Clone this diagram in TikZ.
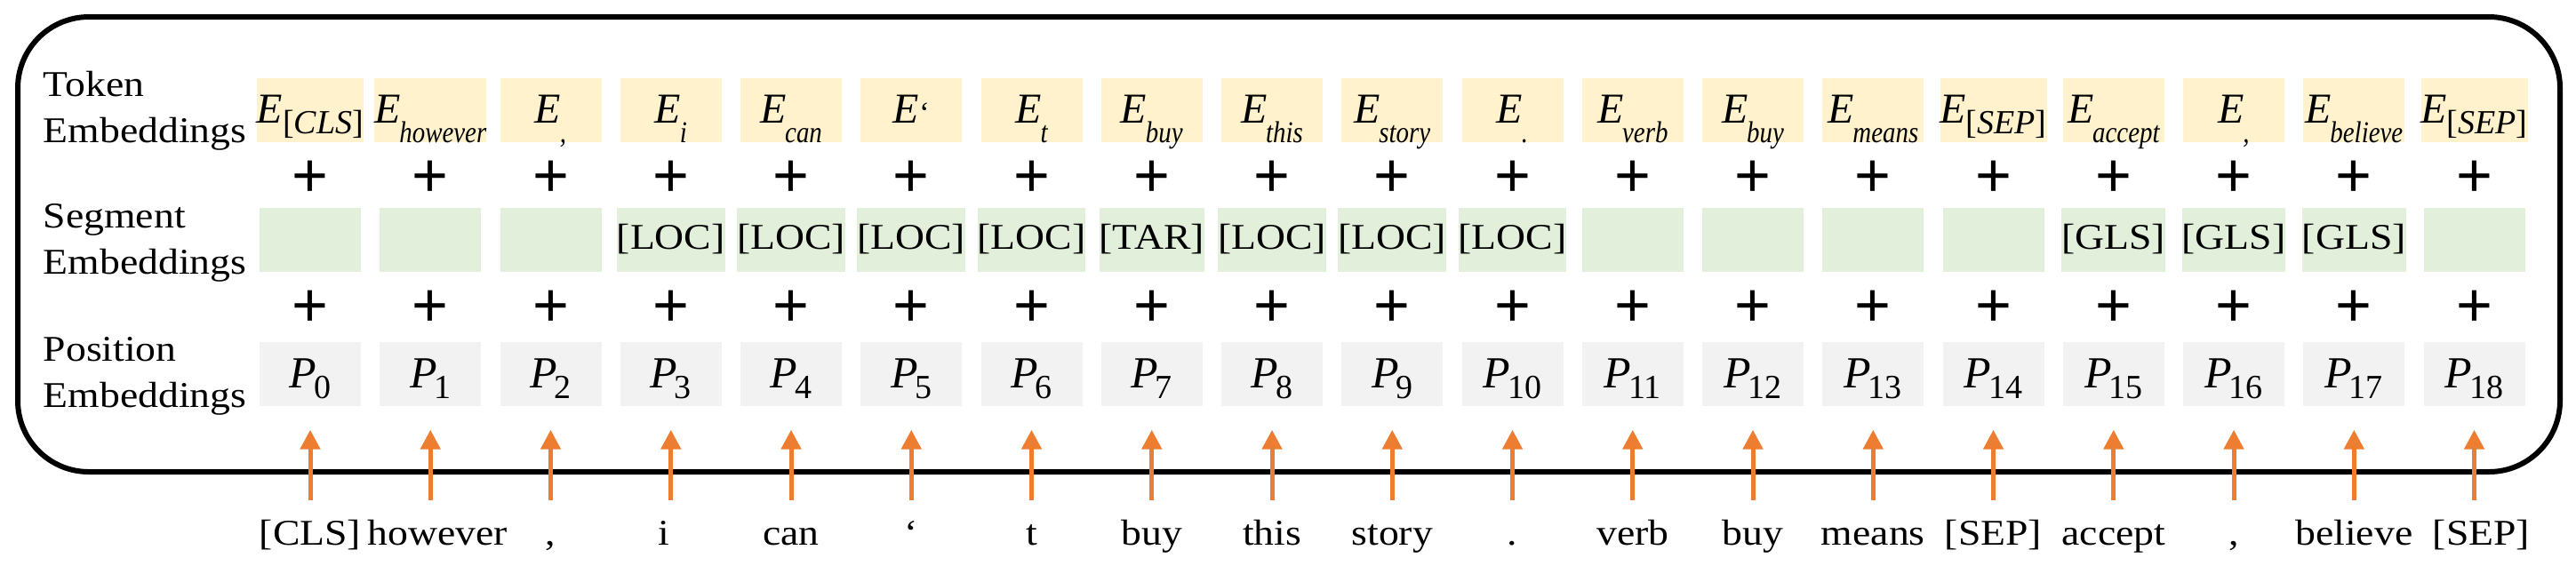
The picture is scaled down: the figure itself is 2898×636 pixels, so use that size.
\documentclass[tikz,border=0pt]{standalone}
\usepackage{fontspec}
\setmainfont{Liberation Serif}
\newfontfamily\widefont[FakeStretch=1.12]{Liberation Serif}
\newfontfamily\subfont[FakeStretch=0.85]{Liberation Serif}
\newfontfamily\plusfont{Liberation Sans}
\usetikzlibrary{arrows.meta}
\definecolor{tokfill}{HTML}{FFF2CC}
\definecolor{segfill}{HTML}{E2EFDA}
\definecolor{posfill}{HTML}{F2F2F2}
\definecolor{arrorange}{HTML}{ED7D31}
\newcommand\Ew[1]{{\itshape E}\kern-0.3pt\raisebox{-5.5pt}{\fontsize{8.5}{8.5}\subfont\itshape #1}}
\newcommand\Eq{{\itshape E}{\fontsize{8.5}{8.5}\selectfont ‘}}
\newcommand\Eb[1]{{\itshape E}\raisebox{-3pt}{\fontsize{9.5}{9.5}\selectfont[\textit{#1}]}}
\newcommand\Pn[1]{{\itshape P}\kern-0.8pt\raisebox{-3pt}{\fontsize{9.5}{9.5}\selectfont #1}}
\tikzset{
  tokbox/.style={fill=tokfill, minimum width=28.5pt, minimum height=18pt, inner sep=0pt,
    text height=9pt, text depth=2pt, font=\fontsize{12}{12}\selectfont},
  segbox/.style={fill=segfill, minimum width=28.5pt, minimum height=18pt, inner sep=0pt,
    text height=7pt, text depth=2pt, font=\widefont\fontsize{10.2}{10.2}\selectfont},
  posbox/.style={fill=posfill, minimum width=28.5pt, minimum height=18pt, inner sep=0pt,
    text height=10pt, text depth=2pt, font=\fontsize{12.5}{12.5}\selectfont},
  plussign/.style={inner sep=0pt, font=\plusfont\fontsize{17.5}{17.5}\selectfont},
  wordlab/.style={anchor=base, inner sep=0pt, text height=8pt, text depth=2pt,
    font=\widefont\fontsize{10.2}{10.2}\selectfont},
  rowlab/.style={anchor=north west, inner sep=0pt, align=left,
    font=\widefont\fontsize{10.2}{13}\selectfont},
  orarrow/.style={draw=arrorange, line width=1.25pt, -{Triangle[length=5.5pt,width=5.5pt]},
    shorten <=4.25pt, shorten >=6.6pt},
  outerframe/.style={draw=black, line width=1.5pt, rounded corners=20pt}
}
\newcommand\mkcol[5][0pt]{%
  \pgfmathsetmacro\cx{349+135.25*#2}
  \node[tokbox] (t#2) at (\cx,124) {#3};
  \node[plussign] (pa#2) at (\cx,201) {+};
  \node[segbox] (s#2) at (\cx,270) {#4};
  \node[plussign] (pb#2) at (\cx,347) {+};
  \node[posbox] (p#2) at (\cx,420.5) {\Pn{#2}};
  \node[wordlab, xshift=#1] (w#2) at (\cx,613) {#5};
  \draw[orarrow] (w#2.north -| p#2.south) -- (p#2.south);
}
\begin{document}
\begin{tikzpicture}[x=0.25pt, y=-0.25pt]
\useasboundingbox (0,0) rectangle (2898,636);
\draw[outerframe] (20,19) rectangle (2880,531);
\node[rowlab] (ltok) at (48,79) {Token\\Embeddings};
\node[rowlab] (lseg) at (48,229) {Segment\\Embeddings};
\node[rowlab] (lpos) at (48,379) {Position\\Embeddings};
\mkcol{0}{\Eb{CLS}}{}{[CLS]}
\mkcol[2pt]{1}{\Ew{however}}{}{however}
\mkcol{2}{\Ew{,}}{}{,}
\mkcol[-2pt]{3}{\Ew{i}}{[LOC]}{i}
\mkcol{4}{\Ew{can}}{[LOC]}{can}
\mkcol{5}{\Eq}{[LOC]}{‘}
\mkcol{6}{\Ew{t}}{[LOC]}{t}
\mkcol{7}{\Ew{buy}}{[TAR]}{buy}
\mkcol{8}{\Ew{this}}{[LOC]}{this}
\mkcol{9}{\Ew{story}}{[LOC]}{story}
\mkcol{10}{\Ew{.}}{[LOC]}{.}
\mkcol{11}{\Ew{verb}}{}{verb}
\mkcol{12}{\Ew{buy}}{}{buy}
\mkcol{13}{\Ew{means}}{}{means}
\mkcol{14}{\Eb{SEP}}{}{[SEP]}
\mkcol{15}{\Ew{accept}}{[GLS]}{accept}
\mkcol{16}{\Ew{,}}{[GLS]}{,}
\mkcol{17}{\Ew{believe}}{[GLS]}{believe}
\mkcol[2pt]{18}{\Eb{SEP}}{}{[SEP]}
\end{tikzpicture}
\end{document}
